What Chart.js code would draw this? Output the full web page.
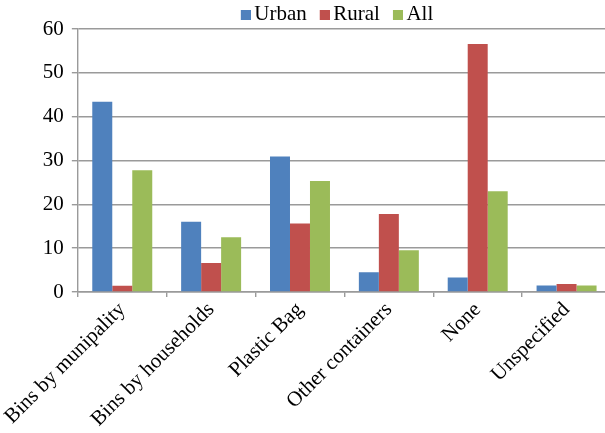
<!DOCTYPE html>
<html>
<head>
<meta charset="utf-8">
<script src="https://cdn.jsdelivr.net/npm/chart.js@4/dist/chart.umd.min.js"></script>
<style>
  html, body { margin: 0; padding: 0; background: #fff; overflow: hidden; }
  #wrap { width: 611px; height: 433px; position: relative; }
</style>
</head>
<body>
<div id="wrap"><canvas id="binsChart"></canvas></div>
<script>
// ====== Données ======
const categories = ["Bins by munipality", "Bins by households", "Plastic Bag", "Other containers", "None", "Unspecified"];
const urban = [43.4, 16.0, 30.9, 4.5, 3.3, 1.5];
const rural = [1.4, 6.6, 15.6, 17.8, 56.6, 1.8];
const all   = [27.8, 12.5, 25.3, 9.5, 23.0, 1.5];
const yTicks = [0, 10, 20, 30, 40, 50, 60];

const COLORS = ["#4F81BD", "#C0504D", "#9BBB59"];
const FONT = { family: "'Liberation Serif', 'Times New Roman', serif", size: 21, lineHeight: 1.0 };
const GRID = "#9a9a9a";

// carré de légende collé au texte (dessiné à droite d'un petit canvas)
function swatch(color) {
  const c = document.createElement("canvas");
  c.width = 24;
  c.height = 10;
  const g = c.getContext("2d");
  g.fillStyle = color;
  g.fillRect(14, 0, 10, 10);
  return c;
}

// légende : hauteur fixe et décalée vers la droite
const legendTweak = {
  id: "legendTweak",
  beforeLayout(chart) {
    const lg = chart.legend;
    if (lg && !lg._fixedFit) {
      const fit = lg.fit.bind(lg);
      lg.fit = function () { fit(); this.height = 29; };
      lg._fixedFit = true;
    }
  },
  afterLayout(chart) {
    const lg = chart.legend;
    lg.left += 28;
    lg.right += 28;
    lg.top -= 2;
    lg.bottom -= 2;
  }
};

const ctx = document.getElementById("binsChart").getContext("2d");
new Chart(ctx, {
  type: "bar",
  data: {
    labels: categories,
    datasets: [
      { label: "Urban", data: urban, backgroundColor: COLORS[0] },
      { label: "Rural", data: rural, backgroundColor: COLORS[1] },
      { label: "All",   data: all,   backgroundColor: COLORS[2] }
    ]
  },
  options: {
    responsive: true,
    maintainAspectRatio: false,
    animation: false,
    layout: { padding: 0 },
    datasets: { bar: { categoryPercentage: 0.675, barPercentage: 1.0 } },
    plugins: {
      legend: {
        position: "top",
        labels: {
          font: FONT,
          color: "#000",
          usePointStyle: true,
          pointStyleWidth: 10,
          boxHeight: 10,
          padding: 6,
          generateLabels: chart =>
            Chart.defaults.plugins.legend.labels.generateLabels(chart).map((item, i) => ({
              ...item,
              pointStyle: swatch(COLORS[i])
            }))
        }
      },
      tooltip: { enabled: false }
    },
    scales: {
      x: {
        offset: true,
        afterFit: s => { s.height = 141; },
        grid: { display: true, drawOnChartArea: false, drawTicks: true, tickLength: 5, offset: true, color: GRID, lineWidth: 1.4 },
        border: { color: GRID, width: 1.4 },
        ticks: { font: FONT, color: "#000", minRotation: 45, maxRotation: 45, padding: 2 }
      },
      y: {
        min: 0,
        max: 60,
        afterFit: s => { s.width = 77; },
        afterBuildTicks: s => { s.ticks = yTicks.map(v => ({ value: v })); },
        grid: { color: GRID, lineWidth: 1.4, tickLength: 6 },
        border: { color: GRID, width: 1.4 },
        ticks: { font: FONT, color: "#000", padding: 8 }
      }
    }
  },
  plugins: [legendTweak]
});
</script>
</body>
</html>
